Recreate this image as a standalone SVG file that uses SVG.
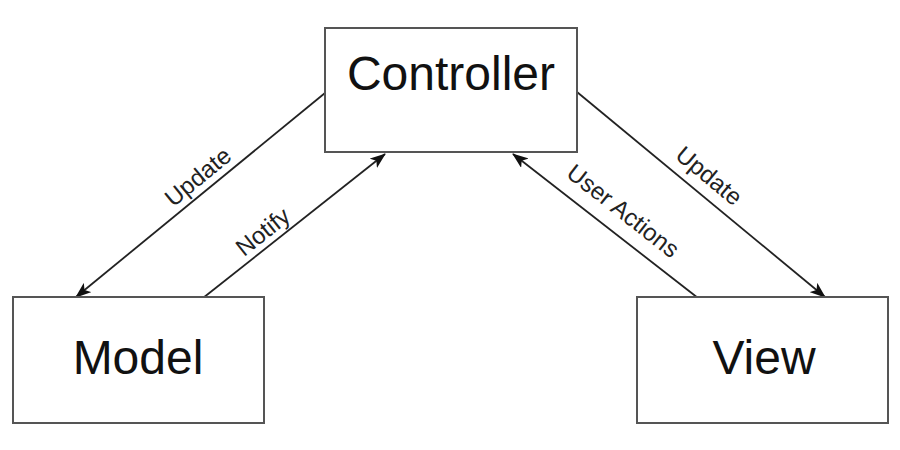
<svg xmlns="http://www.w3.org/2000/svg" width="900" height="450" viewBox="0 0 900 450">
<style>
.box{fill:#fff;stroke:#555;stroke-width:2}
.title{font-family:"Liberation Sans",Arial,sans-serif;font-size:48px;fill:#111;text-anchor:middle}
.lbl{font-family:"Liberation Sans",Arial,sans-serif;font-size:24px;fill:#222;text-anchor:middle}
.conn{stroke:#222;stroke-width:1.8;fill:none;marker-end:url(#arr)}
</style>
<defs>
<marker id="arr" viewBox="0 0 16 12" refX="15" refY="6" markerWidth="16" markerHeight="12" markerUnits="userSpaceOnUse" orient="auto">
<path d="M0,0 L16,6 L0,12 L4,6 Z" fill="#111"/>
</marker>
</defs>
<rect width="900" height="450" fill="#fff"/>
<g id="connectors">
<line class="conn" x1="325" y1="93" x2="76" y2="297"/>
<line class="conn" x1="203" y1="298" x2="385" y2="154"/>
<line class="conn" x1="698" y1="298" x2="513" y2="154"/>
<line class="conn" x1="577" y1="92" x2="825" y2="297"/>
<text class="lbl" transform="translate(198,177) rotate(-39.35)" y="8">Update</text>
<text class="lbl" transform="translate(263,232) rotate(-38.55)" y="8">Notify</text>
<text class="lbl" transform="translate(623,211) rotate(38.1)" y="8">User Actions</text>
<text class="lbl" transform="translate(709,176) rotate(39.7)" y="8">Update</text>
</g>
<g id="controller">
<rect class="box" x="325" y="28" width="252" height="124"/>
<text class="title" x="451" y="90">Controller</text>
</g>
<g id="model">
<rect class="box" x="13" y="297" width="251" height="126"/>
<text class="title" x="138" y="374">Model</text>
</g>
<g id="view">
<rect class="box" x="637" y="297" width="251" height="126"/>
<text class="title" x="764" y="374">View</text>
</g>
</svg>
